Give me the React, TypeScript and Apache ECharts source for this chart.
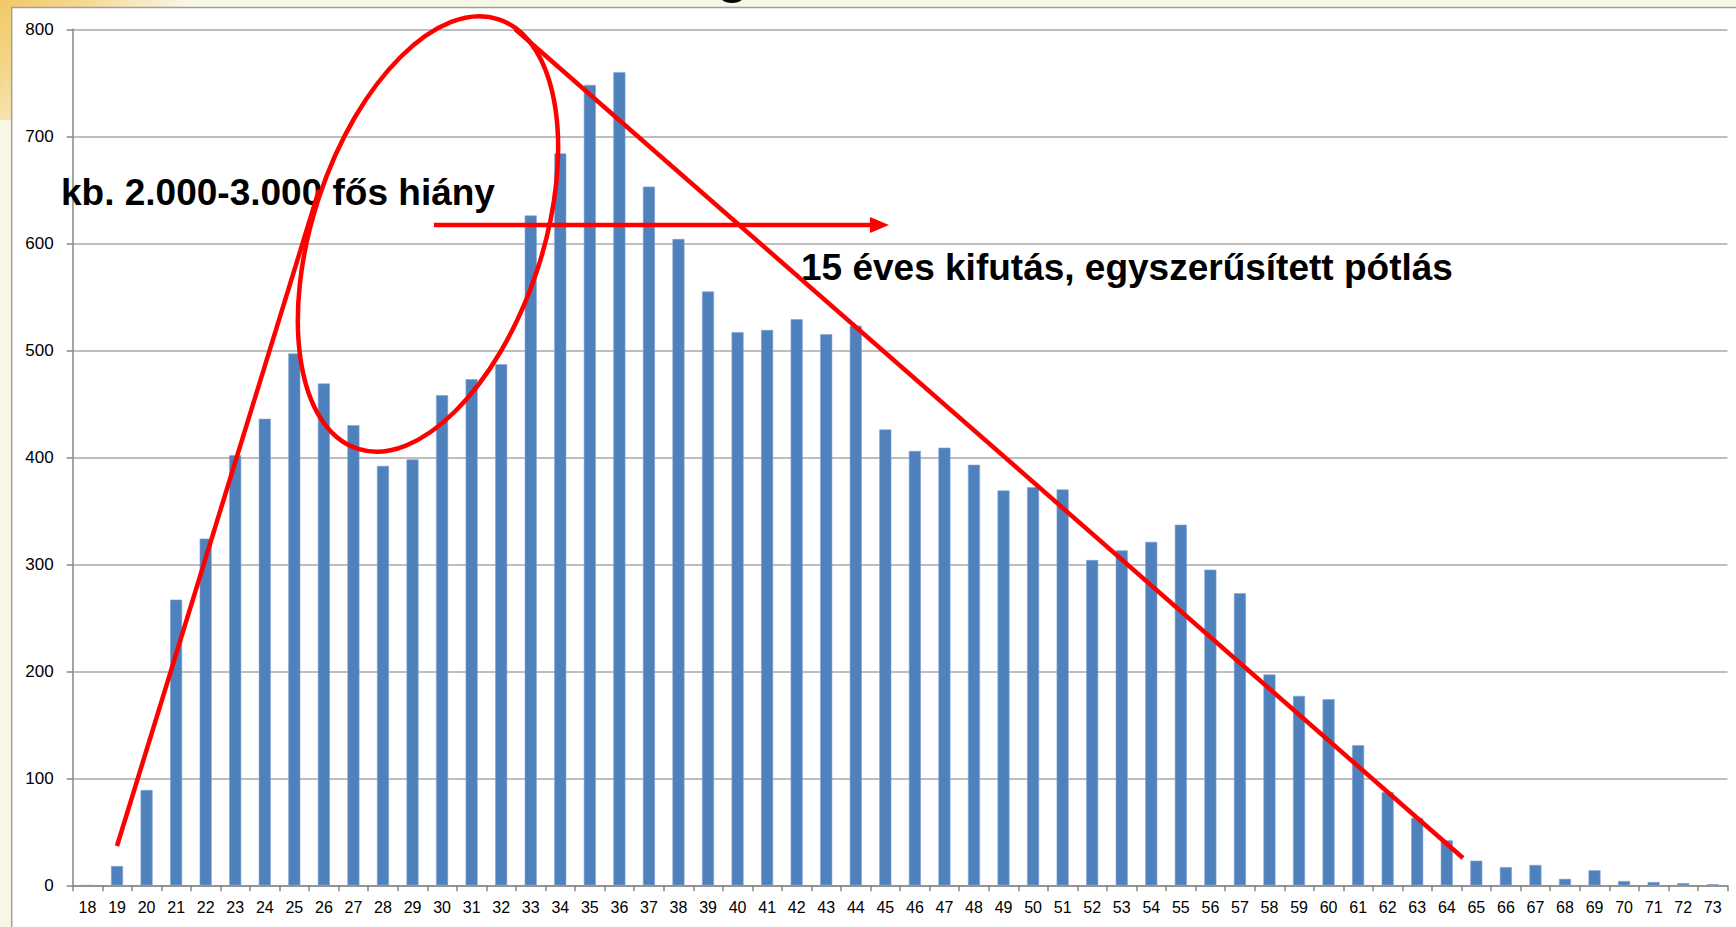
import React, { useEffect, useRef } from "react";
import * as echarts from "echarts";

const ages: string[] = [
  "18","19","20","21","22","23","24","25","26","27","28","29","30","31","32","33","34","35",
  "36","37","38","39","40","41","42","43","44","45","46","47","48","49","50","51","52","53",
  "54","55","56","57","58","59","60","61","62","63","64","65","66","67","68","69","70","71","72","73",
];

const counts: number[] = [
  0, 18, 89, 267, 324, 402, 436, 497, 469, 430, 392, 398, 458, 473, 487, 626, 684, 748,
  760, 653, 604, 555, 517, 519, 529, 515, 523, 426, 406, 409, 393, 369, 372, 370, 304, 313,
  321, 337, 295, 273, 197, 177, 174, 131, 87, 63, 42, 23, 17, 19, 6, 14, 4, 3, 2, 1,
];

const yTicks = { min: 0, max: 800, interval: 100 };

const noteShortage = "kb. 2.000-3.000 fős hiány";
const noteRunout = "15 éves kifutás, egyszerűsített pótlás";

export default function App() {
  const ref = useRef<HTMLDivElement>(null);

  useEffect(() => {
    if (!ref.current) return;
    const chart = echarts.init(ref.current, undefined, { renderer: "svg" });
    const red = "#FF0000";
    chart.setOption({
      animation: false,
      backgroundColor: "#F8F6E5",
      grid: { left: 72.7, right: 8.5, top: 29.3, bottom: 41.7, containLabel: false },
      xAxis: {
        type: "category",
        data: ages,
        boundaryGap: true,
        axisLine: { show: true, lineStyle: { color: "#868686", width: 1.5 } },
        axisTick: { show: true, length: 6, interval: 0, lineStyle: { color: "#868686", width: 1.5 } },
        axisLabel: {
          interval: 0,
          margin: 14,
          color: "#000",
          fontSize: 16,
          fontFamily: "Liberation Sans, Arial, sans-serif",
        },
      },
      yAxis: {
        type: "value",
        min: yTicks.min,
        max: yTicks.max,
        interval: yTicks.interval,
        axisLine: { show: true, lineStyle: { color: "#868686", width: 1.5 } },
        axisTick: { show: true, length: 6, lineStyle: { color: "#868686", width: 1.5 } },
        splitLine: { show: true, lineStyle: { color: "#A9A9A9", width: 1.5 } },
        axisLabel: {
          margin: 19,
          color: "#000",
          fontSize: 17,
          fontFamily: "Liberation Sans, Arial, sans-serif",
        },
      },
      series: [
        {
          type: "bar",
          data: counts,
          barWidth: 12,
          itemStyle: { color: "#4F81BD", borderColor: "#7FA3D3", borderWidth: 0.6 },
        },
      ],
      graphic: [
        {
          type: "rect",
          z: -20,
          silent: true,
          shape: { x: 0, y: 0, width: 260, height: 120 },
          style: {
            fill: new echarts.graphic.LinearGradient(0, 0, 1, 0.45, [
              { offset: 0, color: "#F2C866" },
              { offset: 0.25, color: "#F4D78C" },
              { offset: 0.6, color: "#F8F6E5" },
              { offset: 1, color: "#F8F6E5" },
            ]),
          },
        },
        {
          type: "ellipse",
          z: -19,
          silent: true,
          shape: { cx: 732, cy: -4, rx: 12, ry: 7 },
          style: { fill: "#000" },
        },
        {
          type: "rect",
          z: -18,
          silent: true,
          shape: { x: 11.7, y: 7.5, width: 1740, height: 940 },
          style: { fill: "#FFFFFF", stroke: "#A0A0A0", lineWidth: 1.5 },
        },
        {
          type: "text",
          z: 50,
          silent: true,
          x: 61,
          y: 192,
          style: {
            text: noteShortage,
            fill: "#000",
            font: "bold 37px 'Liberation Sans', Arial, sans-serif",
            verticalAlign: "middle",
            align: "left",
          },
        },
        {
          type: "text",
          z: 50,
          silent: true,
          x: 801,
          y: 267,
          style: {
            text: noteRunout,
            fill: "#000",
            font: "bold 37px 'Liberation Sans', Arial, sans-serif",
            verticalAlign: "middle",
            align: "left",
          },
        },
        {
          type: "line",
          z: 60,
          silent: true,
          shape: { x1: 117, y1: 846, x2: 319, y2: 190 },
          style: { stroke: red, lineWidth: 4.5 },
        },
        {
          type: "line",
          z: 60,
          silent: true,
          shape: { x1: 515, y1: 29, x2: 1463, y2: 858 },
          style: { stroke: red, lineWidth: 4.5 },
        },
        {
          type: "ellipse",
          z: 60,
          silent: true,
          x: 428,
          y: 234,
          rotation: -0.318,
          shape: { cx: 0, cy: 0, rx: 115, ry: 226 },
          style: { fill: "none", stroke: red, lineWidth: 4.5 },
        },
        {
          type: "line",
          z: 60,
          silent: true,
          shape: { x1: 434, y1: 225, x2: 872, y2: 225 },
          style: { stroke: red, lineWidth: 4.5 },
        },
        {
          type: "polygon",
          z: 60,
          silent: true,
          shape: { points: [[870, 217], [889, 225], [870, 233]] },
          style: { fill: red },
        },
      ],
    });
    return () => chart.dispose();
  }, []);

  return (
    <div
      ref={ref}
      style={{ position: "absolute", left: 0, top: 0, width: 1736, height: 927 }}
    />
  );
}
